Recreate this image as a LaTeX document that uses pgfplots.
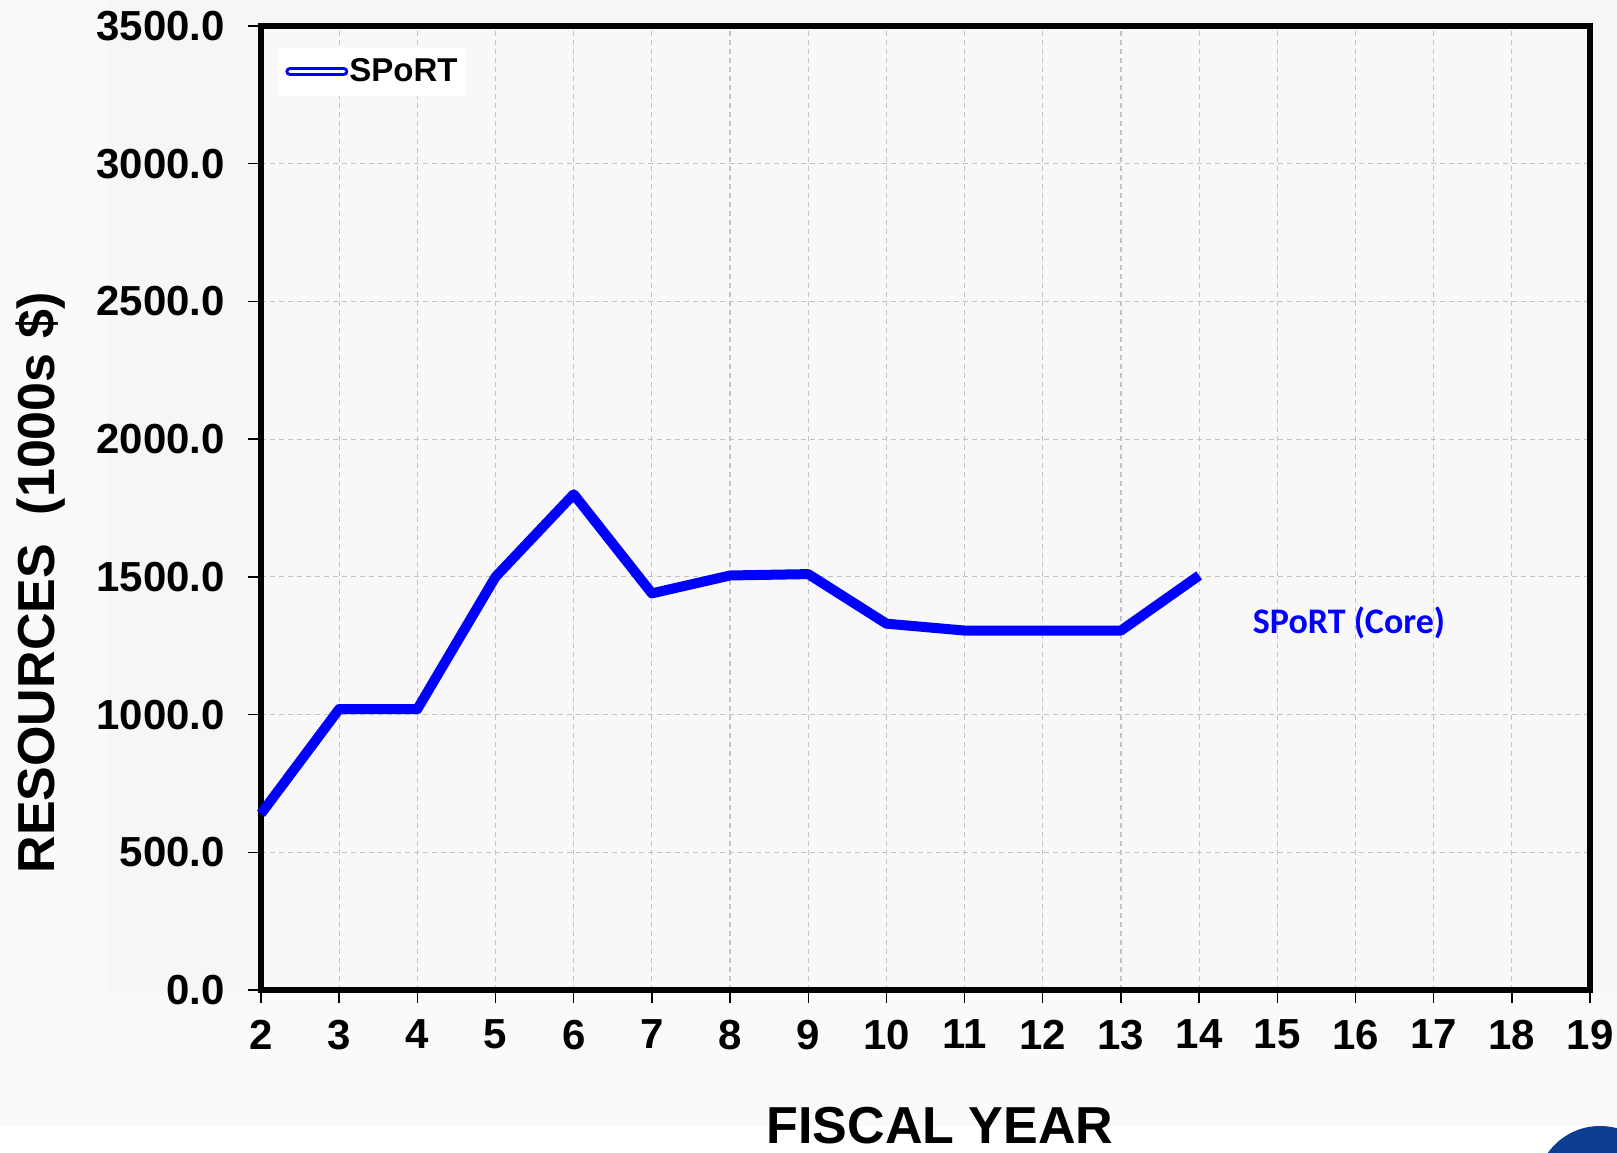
\documentclass[border=0pt]{standalone}
\usepackage{pgfplots}
\pgfplotsset{compat=1.18}
\usepackage{fontspec}
\setmainfont{Liberation Sans}
\newfontfamily\calibri{Carlito}
\definecolor{bgout}{HTML}{FAFAFA}
\definecolor{bgpanel}{HTML}{F6F6F6}
\definecolor{plotbg}{HTML}{F8F8F8}
\definecolor{nasablue}{HTML}{0B3D91}
\definecolor{gridc}{HTML}{C4C4C4}
\begin{document}
\begin{tikzpicture}
\useasboundingbox (0,0) rectangle (808.5pt,576pt);
\fill[white] (0,0) rectangle (808.5pt,576pt);
\fill[bgout] (0,13pt) rectangle (808.5pt,576pt);
\fill[bgpanel] (54pt,80pt) rectangle (808.5pt,576pt);
\begin{scope}
\clip (0,0) rectangle (808.5pt,576pt);
\fill[nasablue] (800pt,-19pt) circle (32pt);
\end{scope}
\begin{axis}[
  at={(130.5pt,81pt)}, anchor=south west,
  scale only axis, width=664.5pt, height=482pt,
  xmin=2, xmax=19, ymin=0, ymax=3500,
  xtick={2,...,19}, ytick={0,500,...,3500},
  axis background/.style={fill=plotbg},
  grid=major,
  grid style={gridc, line width=0.6pt, dash pattern=on 2.5pt off 2pt},
  axis line style={line width=3.2pt, line cap=rect},
  tick pos=left, tick align=outside, major tick length=6.5pt,
  tick style={black, line width=0.7pt},
  /pgf/number format/assume math mode=true,
  ticklabel style={font=\fontsize{21}{25}\selectfont\bfseries},
  y tick label style={/pgf/number format/.cd, fixed, fixed zerofill, precision=1, 1000 sep={}, /tikz/.cd, xshift=-8pt},
  x tick label style={yshift=-5pt},
  legend style={at={(axis description cs:0.0135,0.978)}, anchor=north west,
    draw=none, fill=white, font=\fontsize{16.5}{19}\selectfont\bfseries,
    inner xsep=3pt, inner ysep=3.5pt,
    nodes={inner xsep=0.5pt}},
  legend image code/.code={
    \draw[blue, line width=4.5pt, line cap=round] (0pt,0pt) -- (27pt,0pt);
    \draw[white, line width=1.5pt, line cap=round] (0pt,0pt) -- (27pt,0pt);},
  clip=false,
]
\addplot[blue, line width=5pt, line join=round] coordinates {
  (2,640) (3,1020) (4,1020) (5,1500) (6,1800) (7,1440) (8,1505) (9,1510)
  (10,1330) (11,1305) (12,1305) (13,1305) (14,1505)
};
\addlegendentry{SPoRT}
\end{axis}
\node[blue, font=\calibri\fontsize{18}{22}\selectfont\bfseries] at (674.5pt,264.5pt) {SPoRT (Core)};
\node[rotate=90, font=\fontsize{26}{30}\selectfont\bfseries] at (20.5pt,284.5pt) {RESOURCES\ \ (1000s \$)};
\node[inner sep=0pt, anchor=base, font=\fontsize{26}{30}\selectfont\bfseries] at (470pt,4.5pt) {FISCAL YEAR};
\end{tikzpicture}
\end{document}
